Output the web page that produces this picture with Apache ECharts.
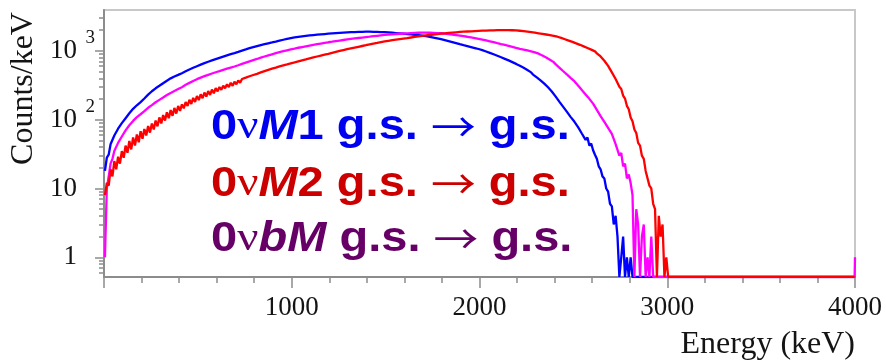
<!DOCTYPE html>
<html>
<head>
<meta charset="utf-8">
<script src="https://cdn.jsdelivr.net/npm/echarts@6/dist/echarts.min.js"></script>
<style>
  html, body { margin: 0; padding: 0; background: #ffffff; }
  #chart { width: 886px; height: 361px; }
</style>
</head>
<body>
<div id="chart"></div>
<script>
// Energy spectra, counts per keV, in 10 keV bins starting at 0 keV.
const BIN_WIDTH = 10;

// 0νM1 g.s. → g.s.
const m1Counts = [
  18,28,31,44,47,59,61,74,75,89,90,105,107,124,127,144,146,162,164,180,
  183,203,208,231,237,259,264,286,289,311,316,339,346,369,375,399,402,424,427,448,
  451,474,482,505,512,537,543,568,574,599,606,631,637,663,669,695,701,727,733,759,
  766,792,799,826,833,861,867,895,900,929,935,967,976,1010,1018,1051,1060,1094,1101,1136,
  1144,1176,1181,1214,1219,1252,1257,1290,1295,1328,1333,1368,1375,1410,1417,1452,1459,1494,1501,1536,
  1543,1571,1569,1597,1594,1623,1620,1649,1646,1675,1672,1698,1692,1718,1712,1738,1732,1758,1752,1778,
  1772,1796,1787,1811,1802,1826,1817,1841,1832,1856,1847,1868,1856,1877,1865,1886,1874,1895,1883,1904,
  1892,1904,1884,1896,1876,1888,1868,1880,1860,1872,1852,1858,1832,1838,1812,1818,1792,1798,1772,1778,
  1752,1757,1730,1735,1708,1713,1686,1691,1664,1669,1642,1638,1602,1598,1562,1558,1522,1518,1482,1478,
  1443,1434,1397,1388,1351,1342,1305,1296,1259,1250,1213,1209,1177,1173,1141,1137,1105,1101,1069,1065,
  1033,1026,989,981,945,937,901,893,857,849,813,807,773,767,733,727,693,687,653,647,
  613,607,573,567,533,527,493,487,453,447,413,407,374,368,335,329,296,290,257,251,
  218,215,183,183,155,158,131,134,110,113,94,97,78,80,63,66,51,55,42,45,
  36,31,27,21,19,15,14,10,9,6,5.5,3,4,2,0,1,2,0,1,0,
  1,0,0,0,0,0,0,0,0,0,0,0,0,0,0,0,0,0,0,0
];

// 0νbM g.s. → g.s.
const bmCounts = [
  1,10,15,23,27,35,37,46,48,57,58,70,71,83,84,96,97,109,108,120,
  119,133,130,149,144,163,158,179,173,194,188,210,204,228,221,245,238,262,255,279,
  274,297,292,321,314,343,336,366,358,388,380,409,401,429,420,449,441,469,461,489,
  483,507,502,530,523,551,544,572,565,593,586,619,614,648,643,677,672,706,701,735,
  733,763,762,797,794,829,826,861,858,893,890,925,922,957,954,989,986,1021,1018,1053,
  1053,1081,1078,1111,1106,1139,1134,1167,1162,1195,1190,1223,1218,1251,1246,1279,1274,1307,1302,1335,
  1333,1360,1356,1388,1382,1414,1408,1440,1434,1466,1460,1491,1484,1515,1508,1539,1532,1563,1556,1587,
  1583,1609,1604,1635,1628,1659,1652,1683,1676,1707,1700,1727,1716,1743,1732,1759,1748,1775,1764,1791,
  1783,1802,1790,1814,1800,1824,1810,1834,1820,1844,1830,1844,1820,1834,1810,1824,1800,1814,1790,1804,
  1783,1785,1752,1757,1724,1729,1696,1701,1668,1673,1640,1641,1604,1605,1568,1569,1532,1533,1496,1497,
  1463,1459,1420,1418,1379,1377,1338,1336,1297,1295,1256,1256,1219,1219,1182,1182,1145,1145,1108,1108,
  1073,1074,1041,1044,1011,1014,981,984,951,954,921,911,865,855,809,799,753,743,697,687,
  642,622,573,555,510,497,456,444,406,397,363,351,313,304,270,264,233,229,201,199,
  171,172,139,142,113,117,93,96,76,79,62,63,44,45,30,33,21,23,14,16,
  12,8,0,5,3,0,2,3,0,1,0,2,0,0,0,0,0,0,0,0
];

// 0νM2 g.s. → g.s.
const m2Counts = [
  8,12,11,19,15,25,19,29,23,35,28,42,33,49,37,55,42,61,47,68,
  53,73,59,81,65,88,72,97,80,108,88,117,97,128,105,138,114,148,123,158,
  134,167,146,181,158,195,169,207,181,221,193,234,205,248,217,261,229,274,242,288,
  258,298,272,312,287,327,299,344,311,356,328,372,345,390,366,408,385,428,404,446,
  423,464,444,487,464,508,486,530,507,551,527,572,549,594,569,615,590,636,611,658,
  629,681,652,705,676,729,700,753,724,778,748,803,773,829,798,855,823,881,849,908,
  875,938,905,968,935,998,965,1028,995,1058,1025,1088,1055,1118,1085,1148,1115,1178,1145,1208,
  1172,1242,1205,1275,1236,1306,1268,1339,1300,1371,1332,1401,1361,1429,1389,1457,1417,1485,1445,1512,
  1474,1538,1503,1566,1530,1594,1558,1622,1586,1650,1614,1677,1640,1703,1666,1729,1692,1755,1718,1781,
  1745,1803,1766,1824,1786,1844,1806,1864,1826,1884,1846,1900,1861,1914,1875,1928,1889,1942,1903,1956,
  1916,1967,1925,1975,1933,1983,1941,1991,1949,1999,1957,2004,1960,2006,1962,2008,1957,1996,1945,1984,
  1933,1962,1902,1931,1871,1900,1840,1869,1809,1838,1779,1803,1743,1767,1707,1731,1671,1695,1635,1659,
  1601,1607,1538,1543,1474,1478,1411,1413,1347,1349,1284,1286,1224,1226,1165,1165,1106,1104,1047,1043,
  985,985,920,910,830,805,720,695,606,573,488,462,391,366,300,279,224,203,159,142,
  108,95,72,64,46,42,30,27,18,17,11,10,6,5,0,4,2,3,0,1
];

// Empty bins from the end of the lists up to the top of the range, then the last bin.
const emptyRunStart = 3005;
const emptyRunEnd = 3998;
const lastBinEnergy = 4000;
const lastBinM1 = 0;
const lastBinBM = 1;
const lastBinM2 = 0;

// Axis ranges and ticks
const Y_MIN = 0.517;
const Y_MAX = 3930;
const yMajorTicks = [1, 10, 100, 1000];
const yMinorTicks = [0.6, 0.7, 0.8, 0.9,
  2, 3, 4, 5, 6, 7, 8, 9,
  20, 30, 40, 50, 60, 70, 80, 90,
  200, 300, 400, 500, 600, 700, 800, 900,
  2000, 3000];
const yPowerTicks = [100, 1000];

// Empty bins sit on the bottom of the frame on a log scale.
function toSeries(counts, lastBin) {
  const pts = counts.map((c, i) => [i * BIN_WIDTH + BIN_WIDTH / 2, c > 0 ? c : Y_MIN]);
  pts.push([emptyRunStart, Y_MIN]);
  pts.push([emptyRunEnd, Y_MIN]);
  pts.push([lastBinEnergy, lastBin > 0 ? lastBin : Y_MIN]);
  return pts;
}

const AXIS_GRAY = '#8c8c8c';
const TEXT = '#141414';
const SERIF = '"Liberation Serif", "Times New Roman", serif';
const SANS = '"Liberation Sans", Arial, sans-serif';
const ARROW_FONT = '"Noto Sans CJK JP", "DejaVu Sans", sans-serif';

function spectrum(name, counts, lastBin, color) {
  return {
    name: name,
    type: 'line',
    data: toSeries(counts, lastBin),
    showSymbol: false,
    symbol: 'none',
    clip: true,
    lineStyle: { color: color, width: 2.3 },
    emphasis: { disabled: true },
    z: 3
  };
}

function annotation(y, parts, color) {
  return {
    type: 'text',
    x: 211,
    y: y,
    scaleX: 1.12,
    z: 100,
    style: {
      text: parts,
      verticalAlign: 'middle',
      align: 'left',
      fill: color,
      rich: {
        d: { fontFamily: SANS, fontSize: 42, fontWeight: 'bold', fill: color },
        i: { fontFamily: SANS, fontSize: 42, fontWeight: 'bold', fontStyle: 'italic', fill: color },
        nu: { fontFamily: SERIF, fontSize: 42, fontWeight: 'normal', fill: color },
        ar: { fontFamily: ARROW_FONT, fontSize: 40, fontWeight: 'normal', fill: color }
      }
    }
  };
}

const chart = echarts.init(document.getElementById('chart'), null, { renderer: 'canvas' });

chart.setOption({
  animation: false,
  backgroundColor: '#ffffff',
  grid: {
    left: 104, right: 31, top: 10, bottom: 84,
    show: true, borderColor: '#c8c8c8', borderWidth: 2, backgroundColor: 'transparent'
  },
  xAxis: {
    type: 'value',
    min: 0, max: 4000, interval: 1000,
    axisLine: { onZero: false, lineStyle: { color: AXIS_GRAY, width: 2 } },
    axisTick: { length: 11, lineStyle: { color: AXIS_GRAY, width: 1.5 } },
    minorTick: { show: true, splitNumber: 5, length: 6, lineStyle: { color: AXIS_GRAY, width: 1.5 } },
    splitLine: { show: false },
    minorSplitLine: { show: false },
    axisLabel: {
      formatter: v => (v === 0 ? '' : String(v)),
      fontFamily: SERIF, fontSize: 27, color: TEXT, margin: 17
    },
    name: 'Energy (keV)',
    nameLocation: 'end',
    nameGap: 0,
    nameMoveOverlap: false,
    nameTextStyle: {
      fontFamily: SERIF, fontSize: 32, color: TEXT,
      align: 'right', verticalAlign: 'top', padding: [52, 0, 0, 0]
    }
  },
  yAxis: [
    {
      type: 'log',
      min: Y_MIN, max: Y_MAX,
      axisLine: { show: true, onZero: false, lineStyle: { color: AXIS_GRAY, width: 2 } },
      axisTick: { customValues: yMajorTicks, length: 9, lineStyle: { color: AXIS_GRAY, width: 1.5 } },
      minorTick: { show: false },
      splitLine: { show: false },
      axisLabel: {
        customValues: yMajorTicks,
        formatter: v => {
          const e = Math.round(Math.log10(v));
          return e >= 2 ? '10' : String(Math.round(v));
        },
        fontFamily: SERIF, fontSize: 27, color: TEXT, margin: 27
      },
      name: 'Counts/keV',
      nameLocation: 'middle',
      nameRotate: 90,
      nameGap: 64,
      nameMoveOverlap: false,
      nameTextStyle: {
        fontFamily: SERIF, fontSize: 32, color: TEXT,
        padding: [0, 0, 0, 110]
      }
    },
    {
      type: 'log',
      min: Y_MIN, max: Y_MAX,
      position: 'left',
      axisLine: { show: false },
      axisTick: { customValues: yMinorTicks, length: 5, lineStyle: { color: AXIS_GRAY, width: 1.5 } },
      minorTick: { show: false },
      splitLine: { show: false },
      axisLabel: {
        customValues: yPowerTicks,
        formatter: v => String(Math.round(Math.log10(v))),
        fontFamily: SERIF, fontSize: 19, color: TEXT, margin: 9,
        verticalAlign: 'bottom',
        padding: [0, 0, 3, 0]
      }
    }
  ],
  series: [
    spectrum('0νM1', m1Counts, lastBinM1, '#0000ff'),
    spectrum('0νbM', bmCounts, lastBinBM, '#ff00ff'),
    spectrum('0νM2', m2Counts, lastBinM2, '#ff0000')
  ],
  graphic: [
    annotation(127, '{d|0}{nu|ν}{i|M}{d|1 g.s. }{ar|→}{d| g.s.}', '#0000f0'),
    annotation(184, '{d|0}{nu|ν}{i|M}{d|2 g.s. }{ar|→}{d| g.s.}', '#cc0000'),
    annotation(239, '{d|0}{nu|ν}{i|bM}{d| g.s. }{ar|→}{d| g.s.}', '#660066')
  ]
});
</script>
</body>
</html>
